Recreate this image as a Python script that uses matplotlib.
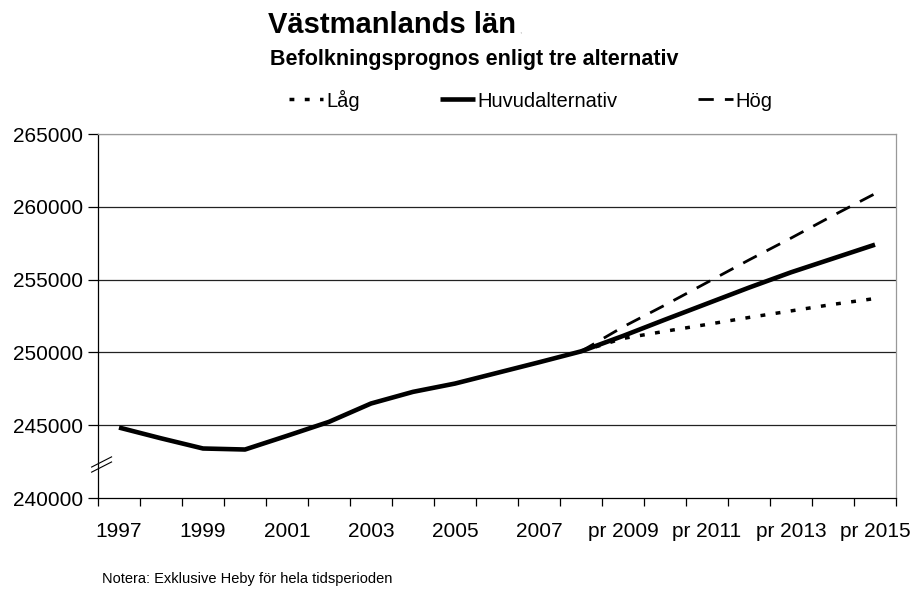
import matplotlib
matplotlib.use("Agg")
import matplotlib.pyplot as plt
import numpy as np

plt.rcParams["font.family"] = ["Liberation Sans", "DejaVu Sans"]

# categories on the x axis
years = ["1997", "1998", "1999", "2000", "2001", "2002", "2003", "2004",
         "2005", "2006", "2007", "2008", "pr 2009", "pr 2010", "pr 2011",
         "pr 2012", "pr 2013", "pr 2014", "pr 2015"]

huvud = [244840, 244100, 243400, 243330, 244270, 245230, 246490, 247290,
         247860, 248590, 249320, 250070, 251130, 252250, 253350, 254450,
         255500, 256450, 257400]
lag = [np.nan] * 11 + [250070, 250960, 251450, 251920, 252400, 252850,
                       253300, 253700]
hog = [np.nan] * 11 + [250070, 251750, 253250, 254800, 256350, 257850,
                       259400, 260900]

y_ticks = [240000, 245000, 250000, 255000, 260000, 265000]

W, H = 913, 589
fig = plt.figure(figsize=(W / 100, H / 100), dpi=100)
ax = fig.add_axes([98 / W, 1 - 498 / H, 798 / W, 364 / H])

x = np.arange(len(years))
ax.plot(x, lag, color="black", lw=2.5, dashes=(1.4, 3.0), label="Låg",
        dash_capstyle="butt")
ax.plot(x, hog, color="black", lw=2.0, dashes=(5.5, 4), label="Hög",
        dash_capstyle="butt")
ax.plot(x, huvud, color="black", lw=3.3, label="Huvudalternativ",
        solid_capstyle="butt")

ax.set_xlim(-0.5, len(years) - 0.5)
ax.set_ylim(240000, 265000)
ax.set_yticks(y_ticks)
ax.set_yticklabels([str(v) for v in y_ticks], fontsize=15)
for v in y_ticks[1:]:
    col = "#999999" if v == 265000 else "#222222"
    ax.axhline(v, color=col, lw=0.9, zorder=0)

# category boundaries get ticks, labels sit in the middle of every other one
ax.set_xticks(np.arange(-0.5, len(years), 1.0))
ax.set_xticklabels([])
ax.set_xticks(x[::2], minor=True)
ax.set_xticklabels(years[::2], minor=True, fontsize=15)
ax.tick_params(axis="x", which="major", length=6, width=0.9, direction="out")
ax.tick_params(axis="x", which="minor", length=0, pad=17)
ax.tick_params(axis="y", length=7, width=0.9, pad=4)

for side in ["top", "right"]:
    ax.spines[side].set_color("#999999")
    ax.spines[side].set_linewidth(0.9)
for side in ["left", "bottom"]:
    ax.spines[side].set_linewidth(0.9)

# axis break marks
for dy in (0.0, 0.014):
    ax.plot([-0.008, 0.017], [0.071 + dy, 0.099 + dy], transform=ax.transAxes,
            color="black", lw=0.8, clip_on=False)

fig.text(268 / W, 1 - 33 / H, "Västmanlands län", fontsize=21,
         fontweight="bold", va="baseline")
fig.text(519 / W, 1 - 33 / H, ",", fontsize=6, color="#aaaaaa",
         va="baseline")
fig.text(270 / W, 1 - 65 / H, "Befolkningsprognos enligt tre alternativ",
         fontsize=15.5, fontweight="bold", va="baseline")

handles, labels = ax.get_legend_handles_labels()
order = [0, 2, 1]
fig.legend([handles[i] for i in order], [labels[i] for i in order],
           loc="center left", bbox_to_anchor=(289 / W, 1 - 100 / H),
           ncol=3, frameon=False, fontsize=14.5, handlelength=1.7,
           handletextpad=0.15, columnspacing=4.0, borderpad=0,
           borderaxespad=0)

fig.text(102 / W, 1 - 583 / H, "Notera: Exklusive Heby för hela tidsperioden",
         fontsize=10.5, va="baseline")

fig.savefig("out.png", dpi=100)
